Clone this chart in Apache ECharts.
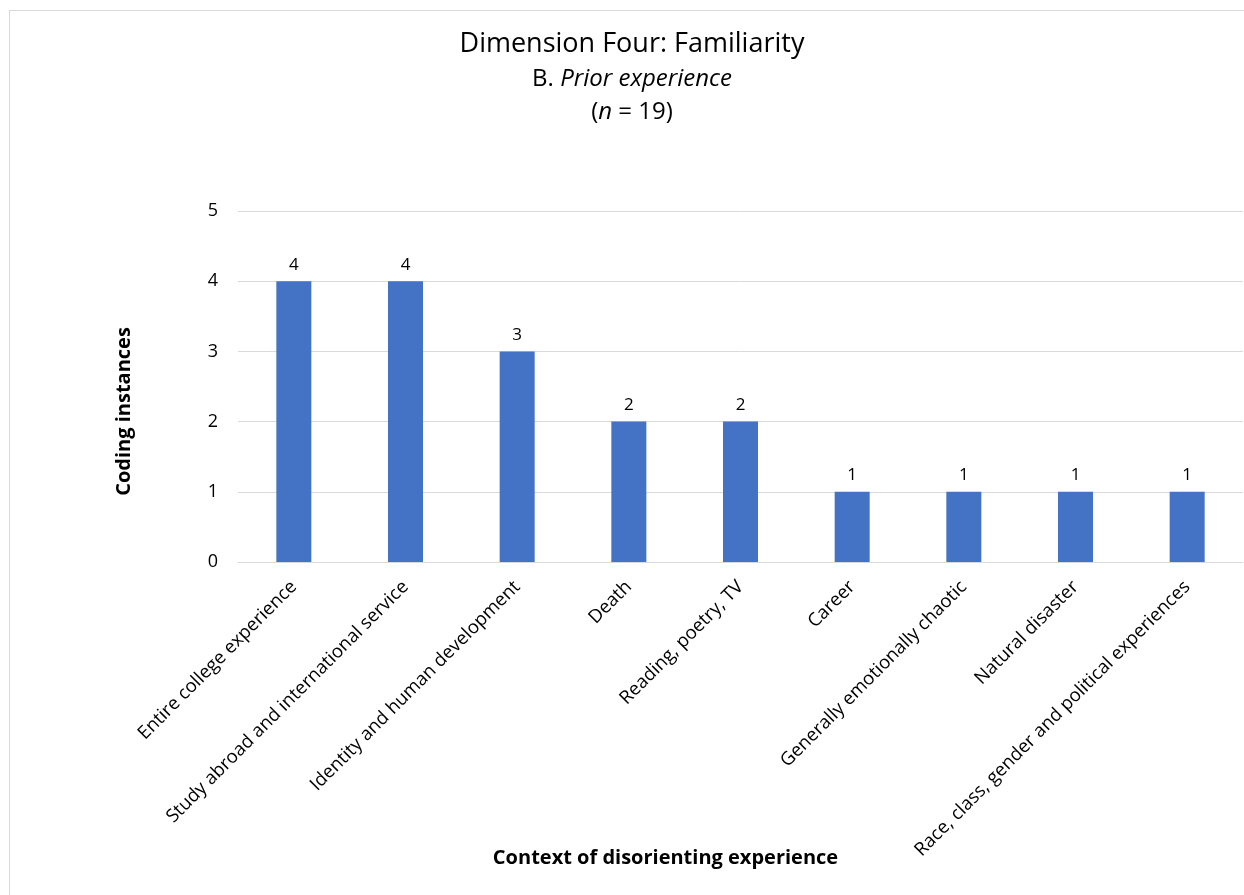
<!DOCTYPE html>
<html>
<head>
<meta charset="utf-8">
<script src="https://cdn.jsdelivr.net/npm/echarts@6/dist/echarts.min.js"></script>
<style>
    html, body { margin: 0; padding: 0; background: #fff; }
    #frame {
        position: absolute; left: 9px; top: 10px;
        width: 1244px; height: 900px;
        border: 1px solid #d9d9d9; box-sizing: border-box;
    }
    #chart { position: absolute; left: 0; top: 0; width: 1244px; height: 895px; }
</style>
</head>
<body>
<div id="frame"></div>
<div id="chart"></div>
<script>
    // data
    var categories = [
        'Entire college experience',
        'Study abroad and international service',
        'Identity and human development',
        'Death',
        'Reading, poetry, TV',
        'Career',
        'Generally emotionally chaotic',
        'Natural disaster',
        'Race, class, gender and political experiences'
    ];
    var codingInstances = [4, 4, 3, 2, 2, 1, 1, 1, 1];
    var yTicks = [0, 1, 2, 3, 4, 5];

    var font = '"Open Sans", "Liberation Sans", sans-serif';

    var chart = echarts.init(document.getElementById('chart'));
    chart.setOption({
        animation: false,
        textStyle: { fontFamily: font },
        title: [
            {
                text: 'Dimension Four: Familiarity',
                left: 627, top: 26, textAlign: 'center',
                textStyle: { fontFamily: font, fontSize: 27, fontWeight: 'normal', color: '#000' }
            },
            {
                text: '{a|B. }{b|Prior experience}',
                left: 627, top: 62, textAlign: 'center',
                textStyle: {
                    fontWeight: 'normal',
                    rich: {
                        a: { fontFamily: font, fontSize: 24, fontWeight: 'normal', color: '#000' },
                        b: { fontFamily: font, fontSize: 24, fontWeight: 'normal', fontStyle: 'italic', color: '#000' }
                    }
                }
            },
            {
                text: '{r|(}{i|n}{r| = 19)}',
                left: 627, top: 95, textAlign: 'center',
                textStyle: {
                    fontWeight: 'normal',
                    rich: {
                        r: { fontFamily: font, fontSize: 24, fontWeight: 'normal', color: '#000' },
                        i: { fontFamily: font, fontSize: 24, fontWeight: 'normal', fontStyle: 'italic', color: '#000' }
                    }
                }
            }
        ],
        grid: {
            left: 238,
            right: 1,
            top: 211,
            bottom: 333
        },
        xAxis: {
            type: 'category',
            data: categories,
            name: 'Context of disorienting experience',
            nameLocation: 'middle',
            nameGap: 286,
            nameMoveOverlap: false,
            nameTextStyle: {
                fontFamily: font, fontSize: 20, fontWeight: 'bold', color: '#000',
                padding: [0, 150, 0, 0]
            },
            axisLine: { lineStyle: { color: '#d9d9d9', width: 1 } },
            axisTick: { show: false },
            axisLabel: {
                interval: 0,
                rotate: 45,
                margin: 22,
                fontFamily: font,
                fontSize: 18.5,
                color: '#000'
            }
        },
        yAxis: {
            type: 'value',
            min: yTicks[0],
            max: yTicks[yTicks.length - 1],
            interval: 1,
            name: 'Coding instances',
            nameLocation: 'middle',
            nameRotate: 90,
            nameGap: 104,
            nameMoveOverlap: false,
            nameTextStyle: {
                fontFamily: font, fontSize: 20, fontWeight: 'bold', color: '#000',
                padding: [0, 50, 0, 0]
            },
            axisLine: { show: false },
            axisTick: { show: false },
            axisLabel: { margin: 20, fontFamily: font, fontSize: 18, color: '#000' },
            splitLine: { lineStyle: { color: '#d9d9d9', width: 1 } }
        },
        series: [
            {
                type: 'bar',
                data: codingInstances,
                barWidth: 35,
                itemStyle: { color: '#4472C4' },
                label: {
                    show: true,
                    position: 'top',
                    distance: 8,
                    fontFamily: font,
                    fontSize: 17,
                    color: '#000'
                }
            }
        ]
    });
</script>
</body>
</html>
